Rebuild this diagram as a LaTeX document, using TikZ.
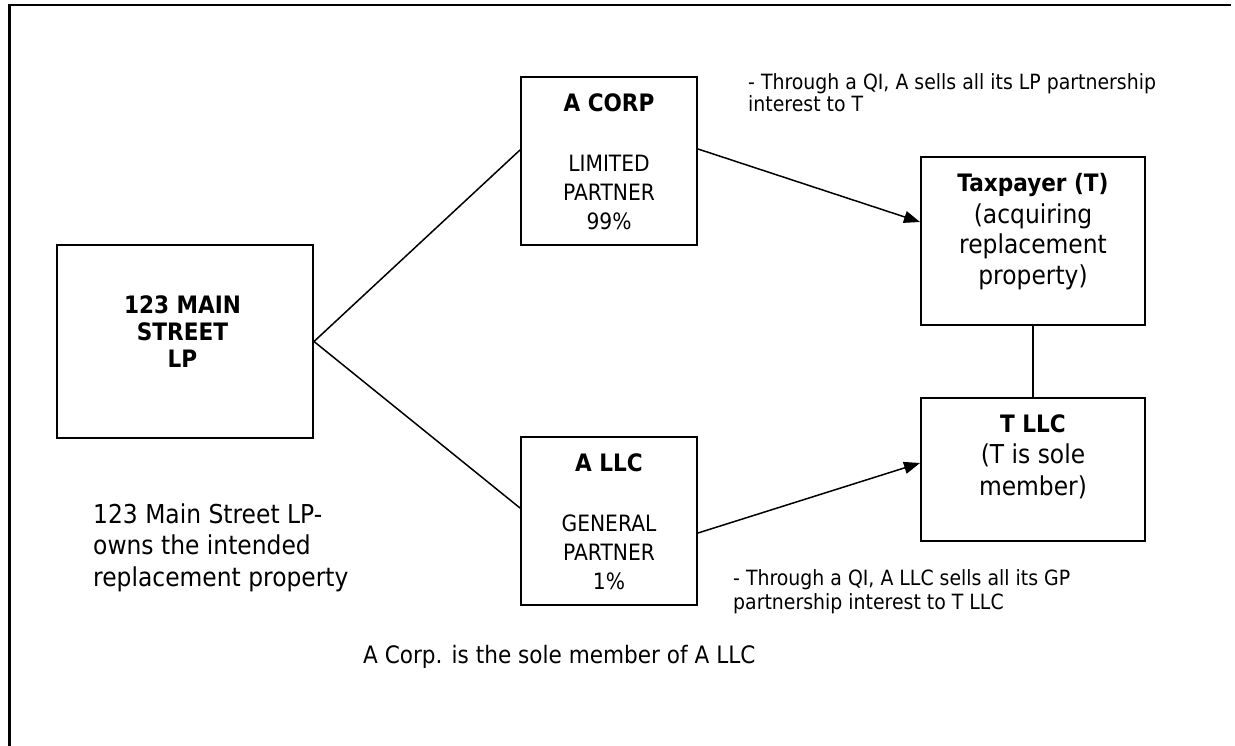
\documentclass[tikz,border=0pt]{standalone}
\usepackage{fontspec}
\setmainfont{DejaVu Sans}[FakeStretch=0.9]
\usetikzlibrary{arrows.meta}
\tikzset{
  box/.style={draw, line width=2pt, inner sep=0pt},
  link/.style={line width=1.5pt},
  arr/.style={link, -{Triangle[length=16pt,width=12pt]}},
  ln/.style={inner sep=0pt, anchor=base},
  ttl/.style={ln, font=\fontsize{24}{28}\selectfont\bfseries},
  bodyL/.style={ln, font=\fontsize{22.5}{27}\selectfont},
  bodyR/.style={ln, font=\fontsize{26}{31}\selectfont},
  note/.style={inner sep=0pt, anchor=base west, font=\fontsize{21}{25}\selectfont},
  bignote/.style={inner sep=0pt, anchor=base west, font=\fontsize{26}{31}\selectfont},
  midnote/.style={inner sep=0pt, anchor=base west, font=\fontsize{24}{29}\selectfont}
}
\begin{document}
\begin{tikzpicture}[x=1pt,y=-1pt]
\useasboundingbox (0,0) rectangle (1235,746);
% frame
\draw[line width=3pt] (9.5,746) -- (9.5,5);
\draw[line width=2pt] (8,5.5) -- (1231,5.5);

% boxes
\node[box, minimum width=256pt, minimum height=193pt] (main) at (185,341.5) {};
\node[box, minimum width=176pt, minimum height=168pt] (acorp) at (609,161) {};
\node[box, minimum width=176pt, minimum height=168pt] (allc) at (609,521) {};
\node[box, minimum width=224pt, minimum height=168pt] (tax) at (1033,241) {};
\node[box, minimum width=224pt, minimum height=143pt] (tllc) at (1033,469.5) {};

% box texts
\node[ttl] (m1) at (182.5,313.5) {123 MAIN};
\node[ttl] (m2) at (182.5,340.5) {STREET};
\node[ttl] (m3) at (182.5,367) {LP};

\node[ttl] (a1) at (609,111.7) {A CORP};
\node[bodyL] (a2) at (609,171.7) {LIMITED};
\node[bodyL] (a3) at (609,200.5) {PARTNER};
\node[bodyL] (a4) at (609,229.5) {99\%};

\node[ttl] (b1) at (609,471.7) {A LLC};
\node[bodyL] (b2) at (609,531.7) {GENERAL};
\node[bodyL] (b3) at (609,560.5) {PARTNER};
\node[bodyL] (b4) at (609,589.5) {1\%};

\node[ttl] (t1) at (1033,192) {Taxpayer (T)};
\node[bodyR] (t2) at (1033,224) {(acquiring};
\node[bodyR] (t3) at (1033,254) {replacement};
\node[bodyR] (t4) at (1033,285) {property)};

\node[ttl] (l1) at (1033,432) {T LLC};
\node[bodyR] (l2) at (1033,463.5) {(T is sole};
\node[bodyR] (l3) at (1033,495) {member)};

% connectors
\draw[link] (main.east) -- ([yshift=11pt]acorp.west);
\draw[link] (main.east) -- ([yshift=13pt]allc.west);
\draw[arr] ([yshift=12pt]acorp.east) -- ([yshift=19pt]tax.west);
\draw[arr] ([yshift=-12pt]allc.east) -- ([yshift=6.5pt]tllc.west);
\draw[link] (tax.south) -- (tllc.north);

% free texts
\node[note] (n1) at (748,90) {- Through a QI, A sells all its LP partnership};
\node[note] (n2) at (748,112) {interest to T};
\node[note] (n3) at (733,585.5) {- Through a QI, A LLC sells all its GP};
\node[note] (n4) at (733,609) {partnership interest to T LLC};

\node[bignote] (f1) at (93,523) {123 Main Street LP-};
\node[bignote] (f2) at (93,554.5) {owns the intended};
\node[bignote] (f3) at (93,586) {replacement property};

\node[midnote] (c1) at (363,663) {A Corp. is the sole member of A LLC};
\end{tikzpicture}
\end{document}
